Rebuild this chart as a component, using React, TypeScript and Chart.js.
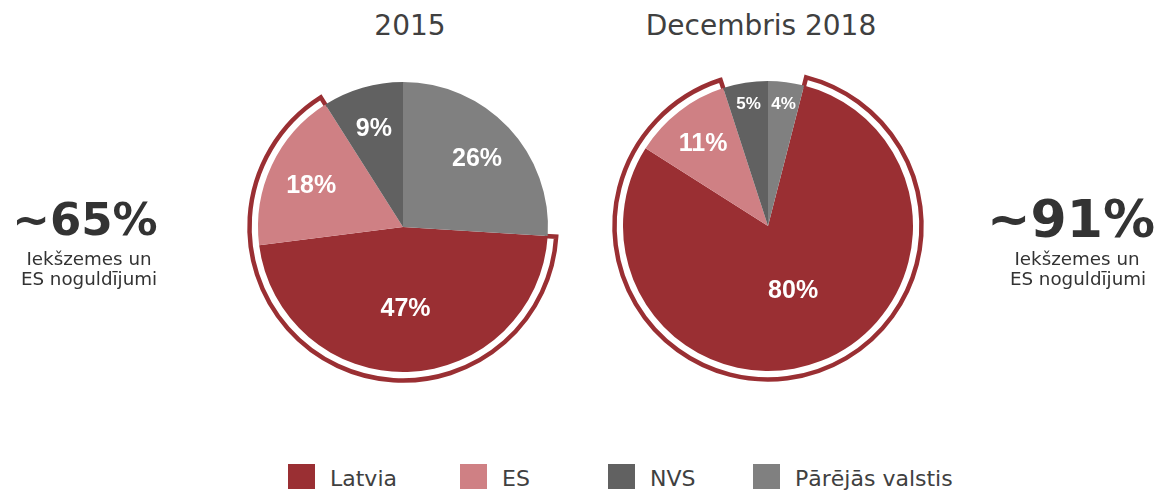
import React, { useEffect, useRef } from "react";
import { Chart, registerables } from "chart.js";

Chart.register(...registerables);

// ---- data ----
const categories = ["Latvia", "ES", "NVS", "Pārējās valstis"];
const values2015 = [47, 18, 9, 26];
const values2018 = [80, 11, 5, 4];
const titles = ["2015", "Decembris 2018"];
const domesticShares = ["~65%", "~91%"];
const sideLabelLines = ["Iekšzemes un", "ES noguldījumi"];
const highlightedFrom = 0; // Latvia
const highlightedTo = 1; // ES

// ---- styles ----
const colors = ["#9A2F33", "#CF8084", "#616161", "#808080"];
const ringColor = "#9A2F33";
const textColor = "#404040";
const darkText = "#333333";
const FONT = '"DejaVu Sans", Verdana, sans-serif';

type PieCfg = {
  values: number[];
  cx: number;
  cy: number;
  labelRadius: number[];
  labelSize: number[];
};

const pies: PieCfg[] = [
  { values: values2015, cx: 403, cy: 227, labelRadius: [0.555, 0.7, 0.72, 0.7], labelSize: [25, 25, 25, 25] },
  { values: values2018, cx: 768, cy: 226, labelRadius: [0.47, 0.73, 0.86, 0.855], labelSize: [25, 25, 17, 17] },
];

const CANVAS = 340;
const RADIUS = 145;

const ringPlugin = {
  id: "ringPlugin",
  beforeDatasetsDraw(chart: any) {
    const meta = chart.getDatasetMeta(0);
    const a0 = meta.data[highlightedFrom];
    const a1 = meta.data[highlightedTo];
    if (!a0 || !a1) return;
    const ctx = chart.ctx;
    const x = a0.x, y = a0.y;
    const start = a0.startAngle;
    const end = a1.endAngle;
    const rIn = a0.outerRadius - 3;
    const rOut = a0.outerRadius + 8.5;
    ctx.save();
    ctx.strokeStyle = ringColor;
    ctx.lineWidth = 4.5;
    ctx.lineJoin = "miter";
    ctx.beginPath();
    ctx.moveTo(x + rIn * Math.cos(start), y + rIn * Math.sin(start));
    ctx.lineTo(x + rOut * Math.cos(start), y + rOut * Math.sin(start));
    ctx.arc(x, y, rOut, start, end);
    ctx.lineTo(x + rIn * Math.cos(end), y + rIn * Math.sin(end));
    ctx.stroke();
    ctx.restore();
  },
  afterDatasetsDraw(chart: any, _args: any, opts: any) {
    const meta = chart.getDatasetMeta(0);
    const data = chart.data.datasets[0].data as number[];
    const total = data.reduce((a, b) => a + b, 0);
    const ctx = chart.ctx;
    ctx.save();
    ctx.fillStyle = "#ffffff";
    ctx.textAlign = "center";
    ctx.textBaseline = "alphabetic";
    meta.data.forEach((arc: any, i: number) => {
      const mid = (arc.startAngle + arc.endAngle) / 2;
      const r = arc.outerRadius * opts.labelRadius[i];
      const size = opts.labelSize[i];
      const px = arc.x + r * Math.cos(mid);
      const py = arc.y + r * Math.sin(mid);
      ctx.font = `bold ${size}px "Liberation Sans", Arial, sans-serif`;
      ctx.fillText(`${Math.round((data[i] / total) * 100)}%`, px, py + size * 0.358);
    });
    ctx.restore();
  },
};

function Pie({ cfg }: { cfg: PieCfg }) {
  const ref = useRef<HTMLCanvasElement>(null);
  useEffect(() => {
    if (!ref.current) return;
    const total = cfg.values.reduce((a, b) => a + b, 0);
    const rotation = (cfg.values[cfg.values.length - 1] / total) * 360;
    const chart = new Chart(ref.current, {
      type: "pie",
      data: {
        labels: categories,
        datasets: [
          {
            data: cfg.values,
            backgroundColor: colors,
            borderWidth: 0,
            hoverOffset: 0,
          },
        ],
      },
      options: {
        responsive: false,
        animation: false,
        rotation,
        radius: RADIUS,
        layout: { padding: 0 },
        events: [],
        plugins: {
          legend: { display: false },
          tooltip: { enabled: false },
          title: { display: false },
          ringPlugin: { labelRadius: cfg.labelRadius, labelSize: cfg.labelSize },
        } as any,
      },
      plugins: [ringPlugin],
    });
    return () => chart.destroy();
  }, [cfg]);
  return (
    <canvas
      ref={ref}
      width={CANVAS}
      height={CANVAS}
      style={{
        position: "absolute",
        left: cfg.cx - CANVAS / 2,
        top: cfg.cy - CANVAS / 2,
        width: CANVAS,
        height: CANVAS,
      }}
    />
  );
}

function Text({
  text,
  cx,
  baseline,
  size,
  bold,
  color,
}: {
  text: string;
  cx: number;
  baseline: number;
  size: number;
  bold?: boolean;
  color: string;
}) {
  return (
    <div
      style={{
        position: "absolute",
        left: cx - 200,
        width: 400,
        top: baseline - 0.846 * size,
        textAlign: "center",
        whiteSpace: "nowrap",
        fontFamily: FONT,
        fontSize: size,
        fontWeight: bold ? "bold" : "normal",
        lineHeight: 1,
        color,
      }}
    >
      {text}
    </div>
  );
}

const legendSquareX = [288, 460, 608, 753];
const LEGEND_FONT = 22;

export default function App() {
  return (
    <div
      style={{
        position: "absolute",
        left: 0,
        top: 0,
        width: 1163,
        height: 490,
        background: "#ffffff",
        overflow: "hidden",
      }}
    >
      <Text text={titles[0]} cx={410} baseline={36} size={28} color={textColor} />
      <Text text={titles[1]} cx={761} baseline={36} size={28} color={textColor} />

      <Pie cfg={pies[0]} />
      <Pie cfg={pies[1]} />

      <Text text={domesticShares[0]} cx={85} baseline={235} size={45} bold color={darkText} />
      <Text text={sideLabelLines[0]} cx={89} baseline={265} size={18.3} color={darkText} />
      <Text text={sideLabelLines[1]} cx={89} baseline={285} size={18.3} color={darkText} />

      <Text text={domesticShares[1]} cx={1071} baseline={237} size={52} bold color={darkText} />
      <Text text={sideLabelLines[0]} cx={1077} baseline={265} size={18.3} color={darkText} />
      <Text text={sideLabelLines[1]} cx={1078} baseline={285} size={18.3} color={darkText} />

      {categories.map((c, i) => (
        <React.Fragment key={c}>
          <div
            style={{
              position: "absolute",
              left: legendSquareX[i],
              top: 464,
              width: 27,
              height: 25,
              background: colors[i],
            }}
          />
          <div
            style={{
              position: "absolute",
              left: legendSquareX[i] + 42,
              top: 487 - 0.846 * LEGEND_FONT,
              fontFamily: FONT,
              fontSize: LEGEND_FONT,
              lineHeight: 1,
              whiteSpace: "nowrap",
              color: textColor,
            }}
          >
            {c}
          </div>
        </React.Fragment>
      ))}
    </div>
  );
}
